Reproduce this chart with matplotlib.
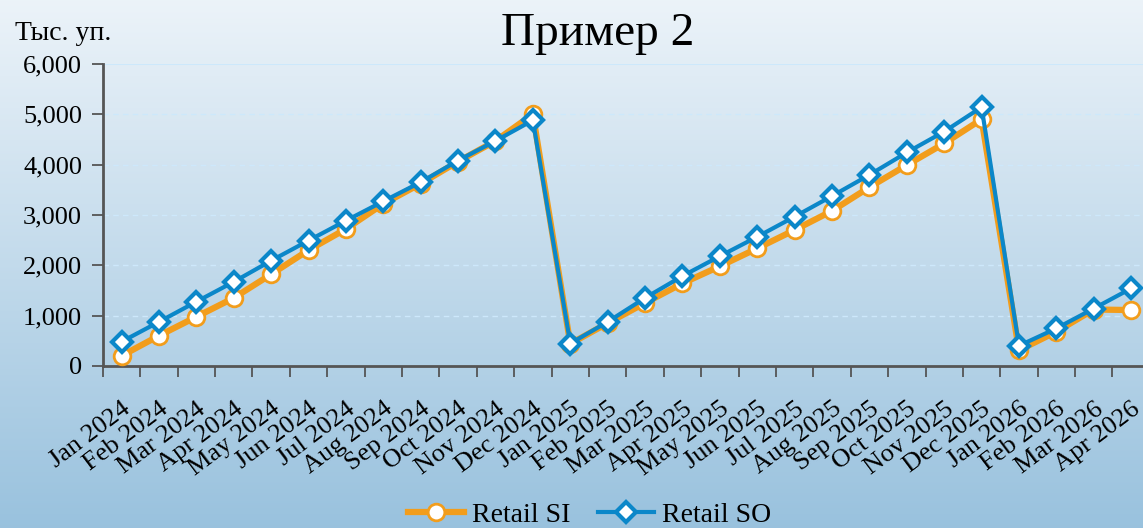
import numpy as np
import matplotlib.pyplot as plt
from matplotlib.ticker import FuncFormatter

plt.rcParams['font.family'] = ['Liberation Serif', 'DejaVu Serif']

months = ["Jan 2024", "Feb 2024", "Mar 2024", "Apr 2024", "May 2024", "Jun 2024",
          "Jul 2024", "Aug 2024", "Sep 2024", "Oct 2024", "Nov 2024", "Dec 2024",
          "Jan 2025", "Feb 2025", "Mar 2025", "Apr 2025", "May 2025", "Jun 2025",
          "Jul 2025", "Aug 2025", "Sep 2025", "Oct 2025", "Nov 2025", "Dec 2025",
          "Jan 2026", "Feb 2026", "Mar 2026", "Apr 2026"]

retail_si = [200, 600, 975, 1350, 1820, 2300, 2720, 3220, 3620, 4060, 4470, 5000,
             440, 850, 1250, 1640, 1980, 2335, 2700, 3080, 3550, 3990, 4420, 4900,
             310, 680, 1120, 1110]
retail_so = [480, 875, 1275, 1670, 2090, 2490, 2885, 3270, 3650, 4080, 4470, 4880,
             445, 875, 1350, 1785, 2180, 2565, 2965, 3375, 3795, 4240, 4655, 5140,
             400, 745, 1140, 1540]

fig = plt.figure(figsize=(11.43, 5.28), dpi=100)

# gradient background
bg = fig.add_axes([0, 0, 1, 1], zorder=-10)
grad = np.linspace(0, 1, 256).reshape(-1, 1)
top = np.array([0.925, 0.953, 0.976])
bottom = np.array([0.60, 0.76, 0.87])
img = top + (bottom - top) * grad[..., None]
bg.imshow(img, aspect='auto', extent=[0, 1, 0, 1])
bg.set_axis_off()

ax = fig.add_axes([0.090, 0.307, 0.916, 0.572])
ax.patch.set_alpha(0)
x = np.arange(len(months))

ax.plot(x, retail_si, color='#f29d1c', lw=4.5, marker='o', ms=12,
        mfc='white', mec='#f29d1c', mew=2, label='Retail SI', zorder=3)
ax.plot(x, retail_so, color='#0b87c9', lw=3, marker='D', ms=10.5,
        mfc='white', mec='#0b87c9', mew=3, label='Retail SO', zorder=4)

ax.set_xlim(-0.5, len(months) - 0.5)
ax.set_ylim(0, 6000)
ax.set_yticks(range(0, 6001, 1000))
ax.yaxis.set_major_formatter(FuncFormatter(lambda v, p: f"{int(v):,}"))
for yv in range(1000, 6000, 1000):
    ax.axhline(yv, color='#cde8fb', lw=1, ls=(0, (4, 3)), zorder=1)
ax.axhline(6000, color='#cde8fb', lw=1.5, zorder=1)

ax.set_xticks(np.arange(len(months) + 1) - 0.5)
ax.set_xticklabels([])
ax.set_xticks(x, minor=True)
ax.set_xticklabels(months, minor=True, rotation=37, ha='right',
                   rotation_mode='anchor', fontsize=19)
ax.tick_params(axis='x', which='minor', length=0, pad=23)
ax.tick_params(axis='x', which='major', length=8, width=1.3, color='#555555')
ax.tick_params(axis='y', length=8, width=1.3, color='#555555', labelsize=19, pad=7)

for s in ['top', 'right']:
    ax.spines[s].set_visible(False)
for s in ['left', 'bottom']:
    ax.spines[s].set_color('#555555')
    ax.spines[s].set_linewidth(2)

fig.text(0.523, 0.937, "Пример 2", ha='center', va='center', fontsize=34)
fig.text(0.013, 0.937, "Тыс. уп.", ha='left', va='center', fontsize=20)

fig.legend(loc='center', bbox_to_anchor=(0.516, 0.025), ncol=2, frameon=False,
           fontsize=20, handlelength=2.0, columnspacing=1.0, handletextpad=0.3)

fig.savefig("out.png", dpi=100)
